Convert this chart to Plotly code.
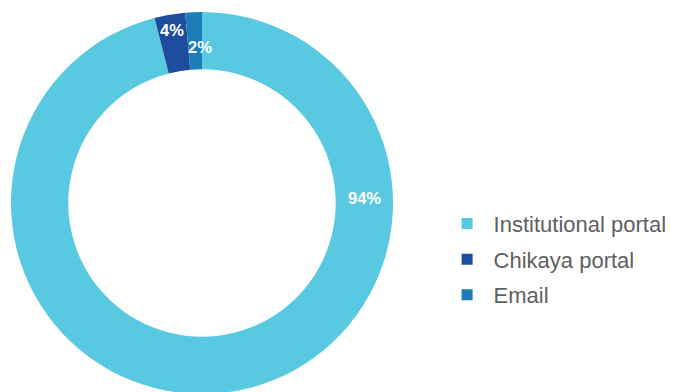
import math
import plotly.graph_objects as go

categories = ["Institutional portal", "Chikaya portal", "Email"]
values = [96.0, 2.6, 1.4]          # slice sizes as drawn
label_texts = ["94%", "4%", "2%"]  # labels as printed
colors = ["#59C9E1", "#1E4C9E", "#1B7DB7"]

W, H = 677, 392
dom_x = [0.0044, 0.5687]
dom_y = [0.0153, 0.9898]
hole = 0.70
FONT = "Liberation Sans, Arial"

fig = go.Figure(go.Pie(
    labels=categories, values=values, hole=hole, sort=False,
    direction="clockwise", rotation=0,
    marker=dict(colors=colors, line=dict(width=0)),
    textinfo="none", hoverinfo="label+percent",
    domain=dict(x=dom_x, y=dom_y), showlegend=False,
))

# legend entries (one group each so the row spacing can be set)
for cat, col in zip(categories, colors):
    fig.add_trace(go.Scatter(x=[None], y=[None], mode="markers", name=cat,
                             legendgroup=cat,
                             marker=dict(symbol="square", size=11, color=col)))

# label placement from the pie geometry
cx = (dom_x[0] + dom_x[1]) / 2 * W
cy = (1 - (dom_y[0] + dom_y[1]) / 2) * H
R = min((dom_x[1] - dom_x[0]) * W, (dom_y[1] - dom_y[0]) * H) / 2
total = sum(values)
cum = 0
mids = []
for v in values:
    mids.append((cum + v / 2) / total * 360)
    cum += v
angles = [88.4, mids[1], mids[2] + 1.8]
radii = [(1 + hole) / 2, 0.918, 0.817]
for txt, a, rf in zip(label_texts, angles, radii):
    r = R * rf
    px = cx + r * math.sin(math.radians(a))
    py = cy - r * math.cos(math.radians(a))
    fig.add_annotation(x=px / W, y=1 - py / H, xref="paper", yref="paper",
                       xanchor="center", yanchor="middle",
                       text=f"<b>{txt}</b>", showarrow=False,
                       font=dict(family=FONT, size=16.5, color="white"))

fig.update_layout(
    width=W, height=H, margin=dict(l=0, r=0, t=0, b=0),
    paper_bgcolor="white", plot_bgcolor="white",
    xaxis=dict(visible=False), yaxis=dict(visible=False),
    legend=dict(x=0.639, y=0.359, xanchor="left", yanchor="middle",
                font=dict(family=FONT, size=22, color="#606060"),
                itemwidth=43, tracegroupgap=4),
    showlegend=True,
)
fig.write_html("out.html")
